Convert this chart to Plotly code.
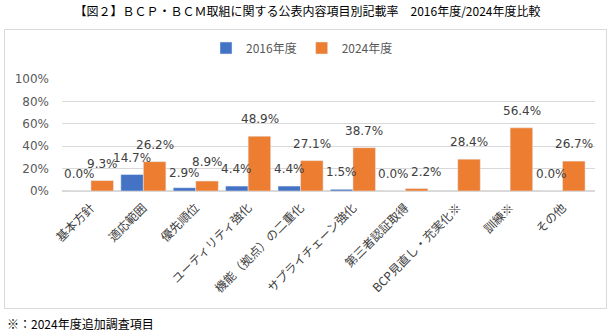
import plotly.graph_objects as go

categories = ["基本方針", "適応範囲", "優先順位", "ユーティリティ強化", "機能（拠点）の二重化",
              "サプライチェーン強化", "第三者認証取得", "BCP見直し・充実化※", "訓練※", "その他"]
values_2016 = [0.0, 14.7, 2.9, 4.4, 4.4, 1.5, 0.0, None, None, 0.0]
values_2024 = [9.3, 26.2, 8.9, 48.9, 27.1, 38.7, 2.2, 28.4, 56.4, 26.7]
series_names = ["2016年度", "2024年度"]
y_ticks = [0, 20, 40, 60, 80, 100]
y_tick_text = [f"{v}%" for v in y_ticks]

W, H = 615, 331
L, R, T, B = 62, 20, 79, 140
pw = W - L - R
ph = H - T - B
BARGAP = 0.14

# label nudges (series index, category) -> (dx px, dy px), as hand-placed in the reference
label_nudge = {(1, "第三者認証取得"): (10, 0), (1, "優先順位"): (0, 2), (0, "優先順位"): (0, -2)}

def px_x(px):
    return (px - L) / pw

def px_y(py):
    return (H - B - py) / ph

num_font = "DejaVu Sans, Noto Sans CJK JP"
jp_font = "Noto Sans CJK JP, Noto Sans"

fig = go.Figure()
fig.add_trace(go.Bar(name=series_names[0], x=categories, y=values_2016, marker_color="#4472C4"))
fig.add_trace(go.Bar(name=series_names[1], x=categories, y=values_2024, marker_color="#ED7D31"))

# data labels placed above each bar (as in the reference, ~17px above bar top)
cat_px = pw / len(categories)
half_bar = (1 - BARGAP) / 4 * cat_px
annotations = []
for si, (vals, sign) in enumerate(((values_2016, -1), (values_2024, 1))):
    for c, v in zip(categories, vals):
        if v is None:
            continue
        dx, dy = label_nudge.get((si, c), (0, 0))
        annotations.append(dict(x=c, y=v, xref="x", yref="y", text=f"{v:.1f}%", showarrow=False,
                                xshift=sign * half_bar + dx, yshift=17 + dy,
                                xanchor="center", yanchor="middle",
                                font=dict(family=num_font, size=12, color="#404040")))

annotations.append(dict(text="※：2024年度追加調査項目", xref="paper", yref="paper",
                        x=px_x(5), y=px_y(323), xanchor="left", yanchor="middle", showarrow=False,
                        font=dict(family=jp_font, size=12, color="#000000")))

fig.update_layout(
    width=W, height=H,
    margin=dict(l=L, r=R, t=T, b=B, autoexpand=False),
    paper_bgcolor="white", plot_bgcolor="white",
    barmode="group", bargap=BARGAP, bargroupgap=0,
    title=dict(text="【図２】ＢＣＰ・ＢＣＭ取組に関する公表内容項目別記載率　2016年度/2024年度比較",
               x=0.5, xanchor="center", y=1 - 12 / H, yanchor="middle",
               font=dict(family=jp_font, size=12, color="#000000")),
    legend=dict(orientation="h", x=px_x(302), xanchor="center", y=px_y(48), yanchor="middle",
                font=dict(family=jp_font, size=12, color="#595959"),
                itemwidth=30, tracegroupgap=0, bgcolor="rgba(0,0,0,0)"),
    showlegend=True,
    xaxis=dict(tickangle=-45, tickfont=dict(family=jp_font, size=12, color="#404040"),
               showline=True, linecolor="#D9D9D9", linewidth=1, ticks="",
               ticklabelstandoff=4, automargin=False),
    yaxis=dict(range=[0, 100], tickvals=y_ticks, ticktext=y_tick_text,
               tickfont=dict(family=num_font, size=12, color="#595959"),
               showgrid=True, gridcolor="#D9D9D9", gridwidth=1,
               zeroline=True, zerolinecolor="#D9D9D9", ticks="",
               ticklabelstandoff=12, automargin=False),
    shapes=[dict(type="rect", xref="paper", yref="paper",
                 x0=px_x(4.5), x1=px_x(606.5), y0=px_y(308.5), y1=px_y(29.5),
                 line=dict(color="#D9D9D9", width=1), fillcolor="rgba(0,0,0,0)", layer="below")],
    annotations=annotations,
)

fig.write_html("out.html")
